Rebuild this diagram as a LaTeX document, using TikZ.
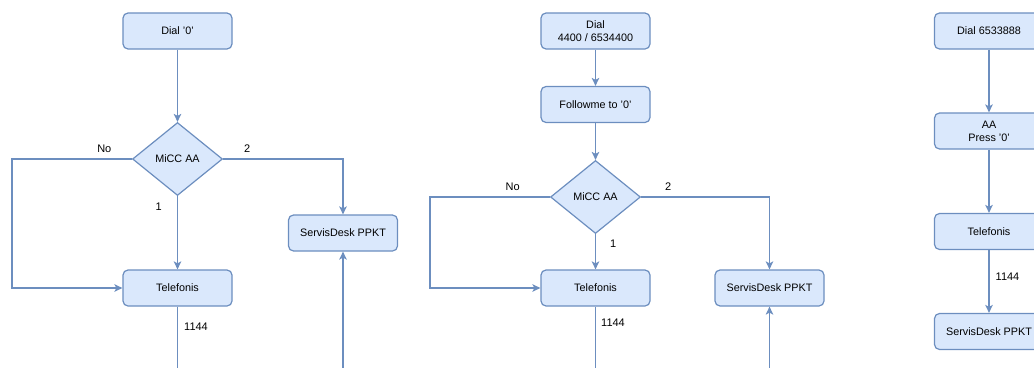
\documentclass[tikz,border=0pt]{standalone}
\usepackage{fontspec}
\setmainfont{Liberation Sans}
\usetikzlibrary{shapes.geometric,arrows.meta}
\definecolor{boxfill}{HTML}{DAE8FC}
\definecolor{boxline}{HTML}{6C8EBF}
\tikzset{
    stepbox/.style={draw=boxline, fill=boxfill, line width=1.2pt, rounded corners=5pt,
        minimum width=109, minimum height=36, align=center, inner sep=2pt,
        font=\fontsize{10.8}{13}\selectfont},
    choice/.style={diamond, draw=boxline, fill=boxfill, line width=1.2pt,
        minimum width=90, minimum height=73, inner sep=0pt,
        font=\fontsize{10.8}{13}\selectfont},
    conn/.style={draw=boxline, line width=1.4pt, -{Stealth[length=8pt,width=7.5pt,inset=2pt]}},
    plainline/.style={draw=boxline, line width=1.4pt},
    lbl/.style={font=\fontsize{11}{13}\selectfont, inner sep=1pt}
}
\begin{document}
\begin{tikzpicture}[x=1pt,y=-1pt]
    \useasboundingbox (0,0) rectangle (1034,367);
    \clip (0,0) rectangle (1034,367);

    % flow 1: Dial '0'
    \node[stepbox] (dial1) at (177.5,31) {Dial '0'};
    \node[choice] (aa1) at (177.5,159) {MiCC AA};
    \node[stepbox] (tel1) at (177.5,288) {Telefonis};
    \node[stepbox] (sd1) at (343,233) {ServisDesk PPKT};
    \coordinate (out1) at (177.5,380);
    \coordinate (in1) at (343,380);
    \draw[conn] (dial1) -- (aa1);
    \draw[conn] (aa1.west) -- ++(-120,0) node[lbl,pos=0.23,above=4.5pt]{No} |- (tel1.west);
    \draw[conn] (aa1.east) -| node[lbl,pos=0.1,above=4.5pt]{2} (sd1.north);
    \draw[conn] (aa1.south) -- node[lbl,pos=0.14,left=14pt]{1} (tel1.north);
    \draw[plainline] (tel1.south) -- node[lbl,pos=0.27,right=5pt]{1144} (out1);
    \draw[conn] (in1) -- (sd1.south);

    % flow 2: Dial 4400 / 6534400
    \node[stepbox] (dial2) at (595.5,31) {Dial\\4400 / 6534400};
    \node[stepbox] (follow2) at (595.5,104.5) {Followme to '0'};
    \node[choice] (aa2) at (595.5,197) {MiCC AA};
    \node[stepbox] (tel2) at (595.5,288) {Telefonis};
    \node[stepbox] (sd2) at (769.5,288) {ServisDesk PPKT};
    \coordinate (out2) at (595.5,380);
    \coordinate (in2) at (769.5,380);
    \draw[conn] (dial2) -- (follow2);
    \draw[conn] (follow2) -- (aa2);
    \draw[conn] (aa2.west) -- ++(-120,0) node[lbl,pos=0.31,above=4.5pt]{No} |- (tel2.west);
    \draw[conn] (aa2.east) -| node[lbl,pos=0.105,above=4.5pt]{2} (sd2.north);
    \draw[conn] (aa2.south) -- node[lbl,pos=0.27,right=13pt]{1} (tel2.north);
    \draw[plainline] (tel2.south) -- node[lbl,pos=0.22,right=4pt]{1144} (out2);
    \draw[conn] (in2) -- (sd2.south);

    % flow 3: Dial 6533888
    \node[stepbox] (dial3) at (989,31) {Dial 6533888};
    \node[stepbox] (press3) at (989,131) {AA\\Press '0'};
    \node[stepbox] (tel3) at (989,231.5) {Telefonis};
    \node[stepbox] (sd3) at (989,331.5) {ServisDesk PPKT};
    \draw[conn] (dial3) -- (press3);
    \draw[conn] (press3) -- (tel3);
    \draw[conn] (tel3) -- node[lbl,pos=0.43,right=5pt]{1144} (sd3);
\end{tikzpicture}
\end{document}
